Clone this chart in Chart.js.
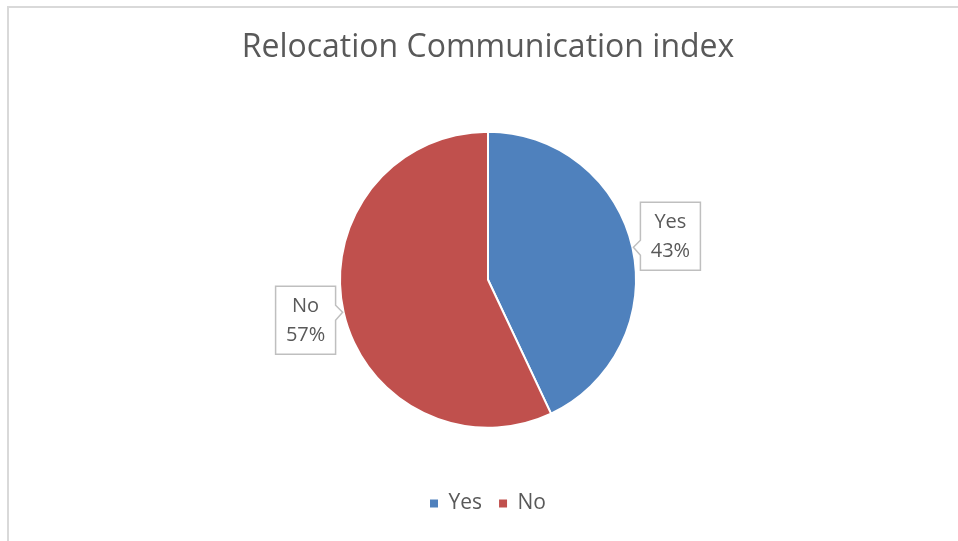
<!DOCTYPE html>
<html>
<head>
<meta charset="utf-8">
<script src="https://cdn.jsdelivr.net/npm/chart.js@4"></script>
<style>
    body { margin: 0; overflow: hidden; background: #fff; }
    #frame { position: absolute; left: 7px; top: 6px; width: 1000px; height: 1000px; border: 2px solid #d9d9d9; }
    #pieChart { position: absolute; left: 0; top: 0; }
</style>
</head>
<body>
<div id="frame"></div>
<canvas id="pieChart" width="958" height="541"></canvas>
<script>
// Chart data
const categories = ['Yes', 'No'];
const shares = [43, 57];
const sliceColors = ['#4F81BD', '#C0504D'];

const textColor = '#595959';
const fontFamily = '"Open Sans", sans-serif';

// Draws the boxed callout labels next to each slice
const calloutPlugin = {
    id: 'callouts',
    afterDatasetsDraw(chart, args, opts) {
        const ctx = chart.ctx;
        const meta = chart.getDatasetMeta(0);
        const total = shares.reduce((a, b) => a + b, 0);
        meta.data.forEach((arc, i) => {
            const p = arc.getProps(['x', 'y', 'startAngle', 'endAngle', 'outerRadius'], true);
            const mid = (p.startAngle + p.endAngle) / 2;
            const tipX = p.x + Math.cos(mid) * (p.outerRadius + 1);
            const tipY = p.y + Math.sin(mid) * (p.outerRadius + 1);
            const right = Math.cos(mid) >= 0;
            const w = opts.boxWidth, h = opts.boxHeight;
            const bx = right ? tipX + opts.gap : tipX - opts.gap - w;
            const by = tipY - h / 2 + opts.shift[i];
            const edge = right ? bx : bx + w;

            ctx.save();
            ctx.beginPath();
            if (right) {
                ctx.moveTo(bx, by);
                ctx.lineTo(bx + w, by);
                ctx.lineTo(bx + w, by + h);
                ctx.lineTo(bx, by + h);
                ctx.lineTo(edge, tipY + 8);
                ctx.lineTo(tipX, tipY);
                ctx.lineTo(edge, tipY - 7);
            } else {
                ctx.moveTo(bx, by);
                ctx.lineTo(bx + w, by);
                ctx.lineTo(edge, tipY - 7);
                ctx.lineTo(tipX, tipY);
                ctx.lineTo(edge, tipY + 8);
                ctx.lineTo(bx + w, by + h);
                ctx.lineTo(bx, by + h);
            }
            ctx.closePath();
            ctx.fillStyle = '#ffffff';
            ctx.fill();
            ctx.strokeStyle = '#bfbfbf';
            ctx.lineWidth = 1.5;
            ctx.stroke();

            ctx.fillStyle = textColor;
            ctx.font = '20px ' + fontFamily;
            ctx.textAlign = 'center';
            ctx.textBaseline = 'middle';
            const cx = bx + w / 2;
            const pct = Math.round(shares[i] / total * 100) + '%';
            ctx.fillText(categories[i], cx, by + h / 2 - 14);
            ctx.fillText(pct, cx, by + h / 2 + 15);
            ctx.restore();
        });
    }
};

function drawPieChart() {
    const ctx = document.getElementById('pieChart').getContext('2d');
    const defaultLabels = Chart.overrides.pie.plugins.legend.labels.generateLabels;

    new Chart(ctx, {
        type: 'pie',
        data: {
            labels: categories,
            datasets: [{
                data: shares,
                backgroundColor: sliceColors,
                borderColor: '#ffffff',
                borderWidth: 2,
                radius: 148
            }]
        },
        options: {
            responsive: false,
            animation: false,
            layout: {
                padding: { top: 20, bottom: 17, left: 18, right: 0 }
            },
            plugins: {
                title: {
                    display: true,
                    text: 'Relocation Communication index',
                    color: textColor,
                    font: { family: fontFamily, size: 32, weight: 'normal' },
                    padding: { top: 9, bottom: 16 }
                },
                legend: {
                    position: 'bottom',
                    labels: {
                        color: textColor,
                        font: { family: fontFamily, size: 21 },
                        boxWidth: 8,
                        boxHeight: 8,
                        padding: 17,
                        generateLabels(chart) {
                            return defaultLabels(chart).map(l => Object.assign(l, { lineWidth: 0 }));
                        }
                    }
                },
                tooltip: { enabled: false },
                callouts: {
                    boxWidth: 60,
                    boxHeight: 68,
                    gap: 7,
                    shift: [-11, 8]
                }
            }
        },
        plugins: [calloutPlugin]
    });
}

drawPieChart();
</script>
</body>
</html>
